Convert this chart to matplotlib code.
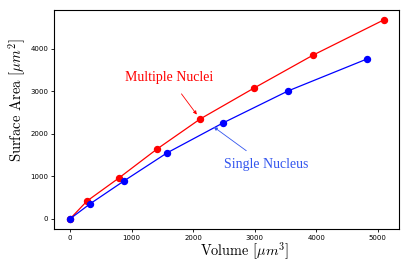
import numpy as np
import matplotlib
matplotlib.use('Agg')
import matplotlib.pyplot as plt

# volume vs surface area
vol_multi = [0, 276, 797, 1415, 2114, 2992, 3951, 5095]
sa_multi = [0, 420, 965, 1645, 2350, 3080, 3855, 4680]
vol_single = [0, 325, 878, 1577, 2488, 3545, 4829]
sa_single = [0, 353, 894, 1553, 2259, 3012, 3765]

plt.rcParams['mathtext.fontset'] = 'cm'

fig = plt.figure(figsize=(4.09, 2.73), dpi=100)
ax = fig.add_axes([0.133, 0.162, 0.843, 0.801])

ax.plot(vol_multi, sa_multi, '-o', color='red', lw=0.9, ms=4.3)
ax.plot(vol_single, sa_single, '-o', color='blue', lw=0.9, ms=4.3)

ax.annotate('Multiple Nuclei', xy=(2114, 2350), xytext=(1618, 3318),
            color='red', fontsize=10, family='Liberation Serif',
            ha='center', va='center',
            arrowprops=dict(arrowstyle='-|>', color='red', lw=0.6,
                            mutation_scale=5, shrinkA=6, shrinkB=4))
ax.annotate('Single Nucleus', xy=(2300, 2200), xytext=(3180, 1270),
            color='#3355ee', fontsize=10, family='Liberation Serif',
            ha='center', va='center',
            arrowprops=dict(arrowstyle='-|>', color='#3355ee', lw=0.6,
                            mutation_scale=5, shrinkA=6, shrinkB=2))

ax.set_xticks([0, 1000, 2000, 3000, 4000, 5000])
ax.set_yticks([0, 1000, 2000, 3000, 4000])
ax.tick_params(labelsize=5, length=2.5, width=0.6, pad=2)
for s in ax.spines.values():
    s.set_linewidth(0.8)

ax.set_xlabel(r'Volume [$\mu m^3$]', family='cmr10', fontsize=10.3)
ax.set_ylabel(r'Surface Area [$\mu m^2$]', family='cmr10', fontsize=10.5)
ax.xaxis.set_label_coords(0.552, -0.055)
ax.yaxis.set_label_coords(-0.078, 0.587)

fig.savefig('out.png', dpi=100)
